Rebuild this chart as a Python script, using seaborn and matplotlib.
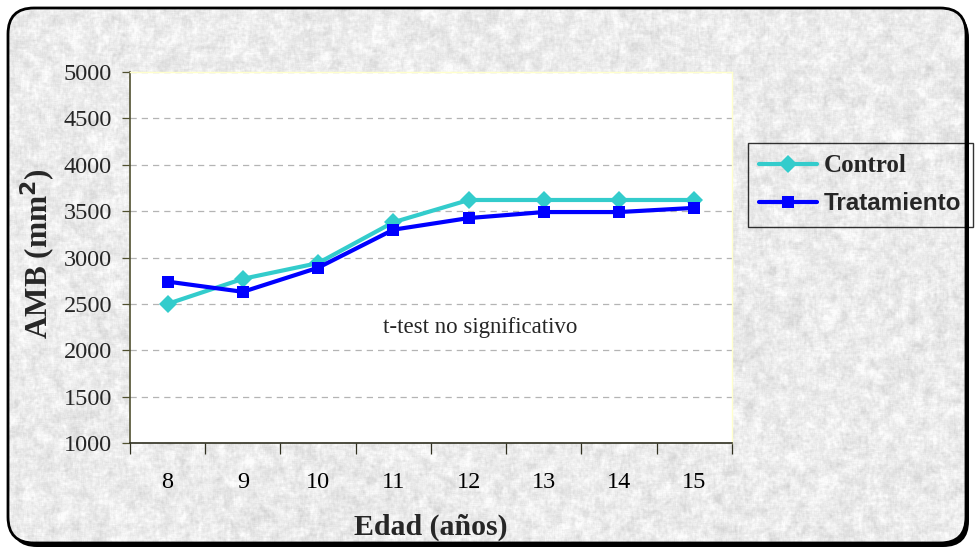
import numpy as np
import pandas as pd
import matplotlib
matplotlib.use("Agg")
import matplotlib.pyplot as plt
from matplotlib.patches import FancyBboxPatch
from matplotlib.ticker import FixedLocator
import seaborn as sns

# Data
edades = ["8", "9", "10", "11", "12", "13", "14", "15"]
control = [2500, 2770, 2940, 3380, 3620, 3620, 3620, 3620]
tratamiento = [2740, 2630, 2890, 3300, 3425, 3490, 3490, 3535]
series_names = ["Control", "Tratamiento"]
y_ticks = [1000, 1500, 2000, 2500, 3000, 3500, 4000, 4500, 5000]

df = pd.DataFrame({
    "Edad": edades * 2,
    "AMB": control + tratamiento,
    "Grupo": [series_names[0]] * len(edades) + [series_names[1]] * len(edades),
})

W, H = 978, 554
sns.set_theme(style="white")
plt.rcParams["font.family"] = ["Liberation Serif", "DejaVu Serif"]

fig = plt.figure(figsize=(W / 100, H / 100), dpi=100)
fig.patch.set_facecolor("white")

# Background: granite-like paper texture inside a rounded frame
bg = fig.add_axes([0, 0, 1, 1], zorder=-10)
bg.set_xlim(0, W)
bg.set_ylim(H, 0)
bg.axis("off")

shadow = FancyBboxPatch((11, 12), W - 20, H - 19,
                        boxstyle="round,pad=0,rounding_size=26",
                        facecolor="black", edgecolor="none")
bg.add_patch(shadow)


def box_blur(a, r):
    out = np.zeros_like(a)
    n = 0
    for dy in range(-r, r + 1):
        for dx in range(-r, r + 1):
            out += np.roll(np.roll(a, dy, axis=0), dx, axis=1)
            n += 1
    return out / n


rng = np.random.default_rng(11)
fine = box_blur(rng.random((H, W)), 1)
coarse = box_blur(rng.random((H, W)), 4)
tex = 0.6 * (fine - fine.mean()) / fine.std() + 0.8 * (coarse - coarse.mean()) / coarse.std()
img = np.clip(0.925 + 0.026 * tex, 0.80, 0.99)
rgb = np.dstack([img, img, img])

frame = FancyBboxPatch((8, 8), W - 20, H - 19,
                       boxstyle="round,pad=0,rounding_size=26",
                       facecolor="none", edgecolor="black", linewidth=2.0)
bg.add_patch(frame)
im = bg.imshow(rgb, extent=(0, W, H, 0), zorder=1, interpolation="bilinear")
im.set_clip_path(frame)
frame.set_zorder(2)

# Plot area
ax = fig.add_axes([130 / W, 1 - 443 / H, (732 - 130) / W, (443 - 72) / H])
ax.set_facecolor("white")

palette = {"Control": "#33CCCC", "Tratamiento": "#0000FF"}
markers = {"Control": "D", "Tratamiento": "s"}
sns.lineplot(data=df, x="Edad", y="AMB", hue="Grupo", style="Grupo",
             palette=palette, markers=markers, dashes=False, sort=False,
             linewidth=3.0, markersize=9, markeredgewidth=0, ax=ax)

ax.set_xlim(-0.5, len(edades) - 0.5)
ax.set_ylim(1000, 5000)
ax.set_yticks(y_ticks)
ax.yaxis.grid(True, linestyle=(0, (5, 4)), color="#B4B4B4", linewidth=0.9)
ax.set_axisbelow(True)

for s in ["top", "right"]:
    ax.spines[s].set_color("#FFFFCC")
    ax.spines[s].set_linewidth(1.0)
ax.spines["left"].set_color("#505030")
ax.spines["bottom"].set_color("#303020")
ax.spines["left"].set_linewidth(1.2)
ax.spines["bottom"].set_linewidth(1.2)

# Category labels centred in each bin, tick marks on the bin edges
ax.xaxis.set_minor_locator(FixedLocator(np.arange(-0.5, len(edades), 1.0)))
ax.tick_params(axis="x", which="major", length=0, pad=21, labelsize=17.5, colors="black")
ax.tick_params(axis="x", which="minor", length=8, width=0.9, direction="out",
               color="#303020", bottom=True)
ax.tick_params(axis="y", length=6, width=0.9, direction="out", color="#505030",
               left=True, labelsize=17.5, pad=7)

ax.set_xlabel("Edad (años)", fontsize=21.5, fontweight="bold")
ax.set_ylabel("AMB (mm$^\\mathbf{2}$)", fontsize=22.5, fontweight="bold")
ax.xaxis.set_label_coords(0.5, -0.19)
ax.yaxis.set_label_coords(-0.12, 0.51)

ax.text(4.15, 2250, "t-test no significativo", ha="center", va="center", fontsize=16.5)

leg = ax.legend(loc="upper left", bbox_to_anchor=(748 / W, 1 - 143 / H),
                bbox_transform=fig.transFigure, frameon=True, fancybox=False,
                handlelength=2.3, handletextpad=0.3, borderpad=0.45,
                labelspacing=0.6, borderaxespad=0, fontsize=18)
leg.get_frame().set_edgecolor("black")
leg.get_frame().set_facecolor("none")
leg.get_frame().set_linewidth(1.0)
for t in leg.get_texts():
    t.set_fontweight("bold")
leg.get_texts()[1].set_fontfamily(["Liberation Sans", "DejaVu Sans"])
leg.get_texts()[1].set_fontsize(17.5)

fig.savefig("out.png", dpi=100)
